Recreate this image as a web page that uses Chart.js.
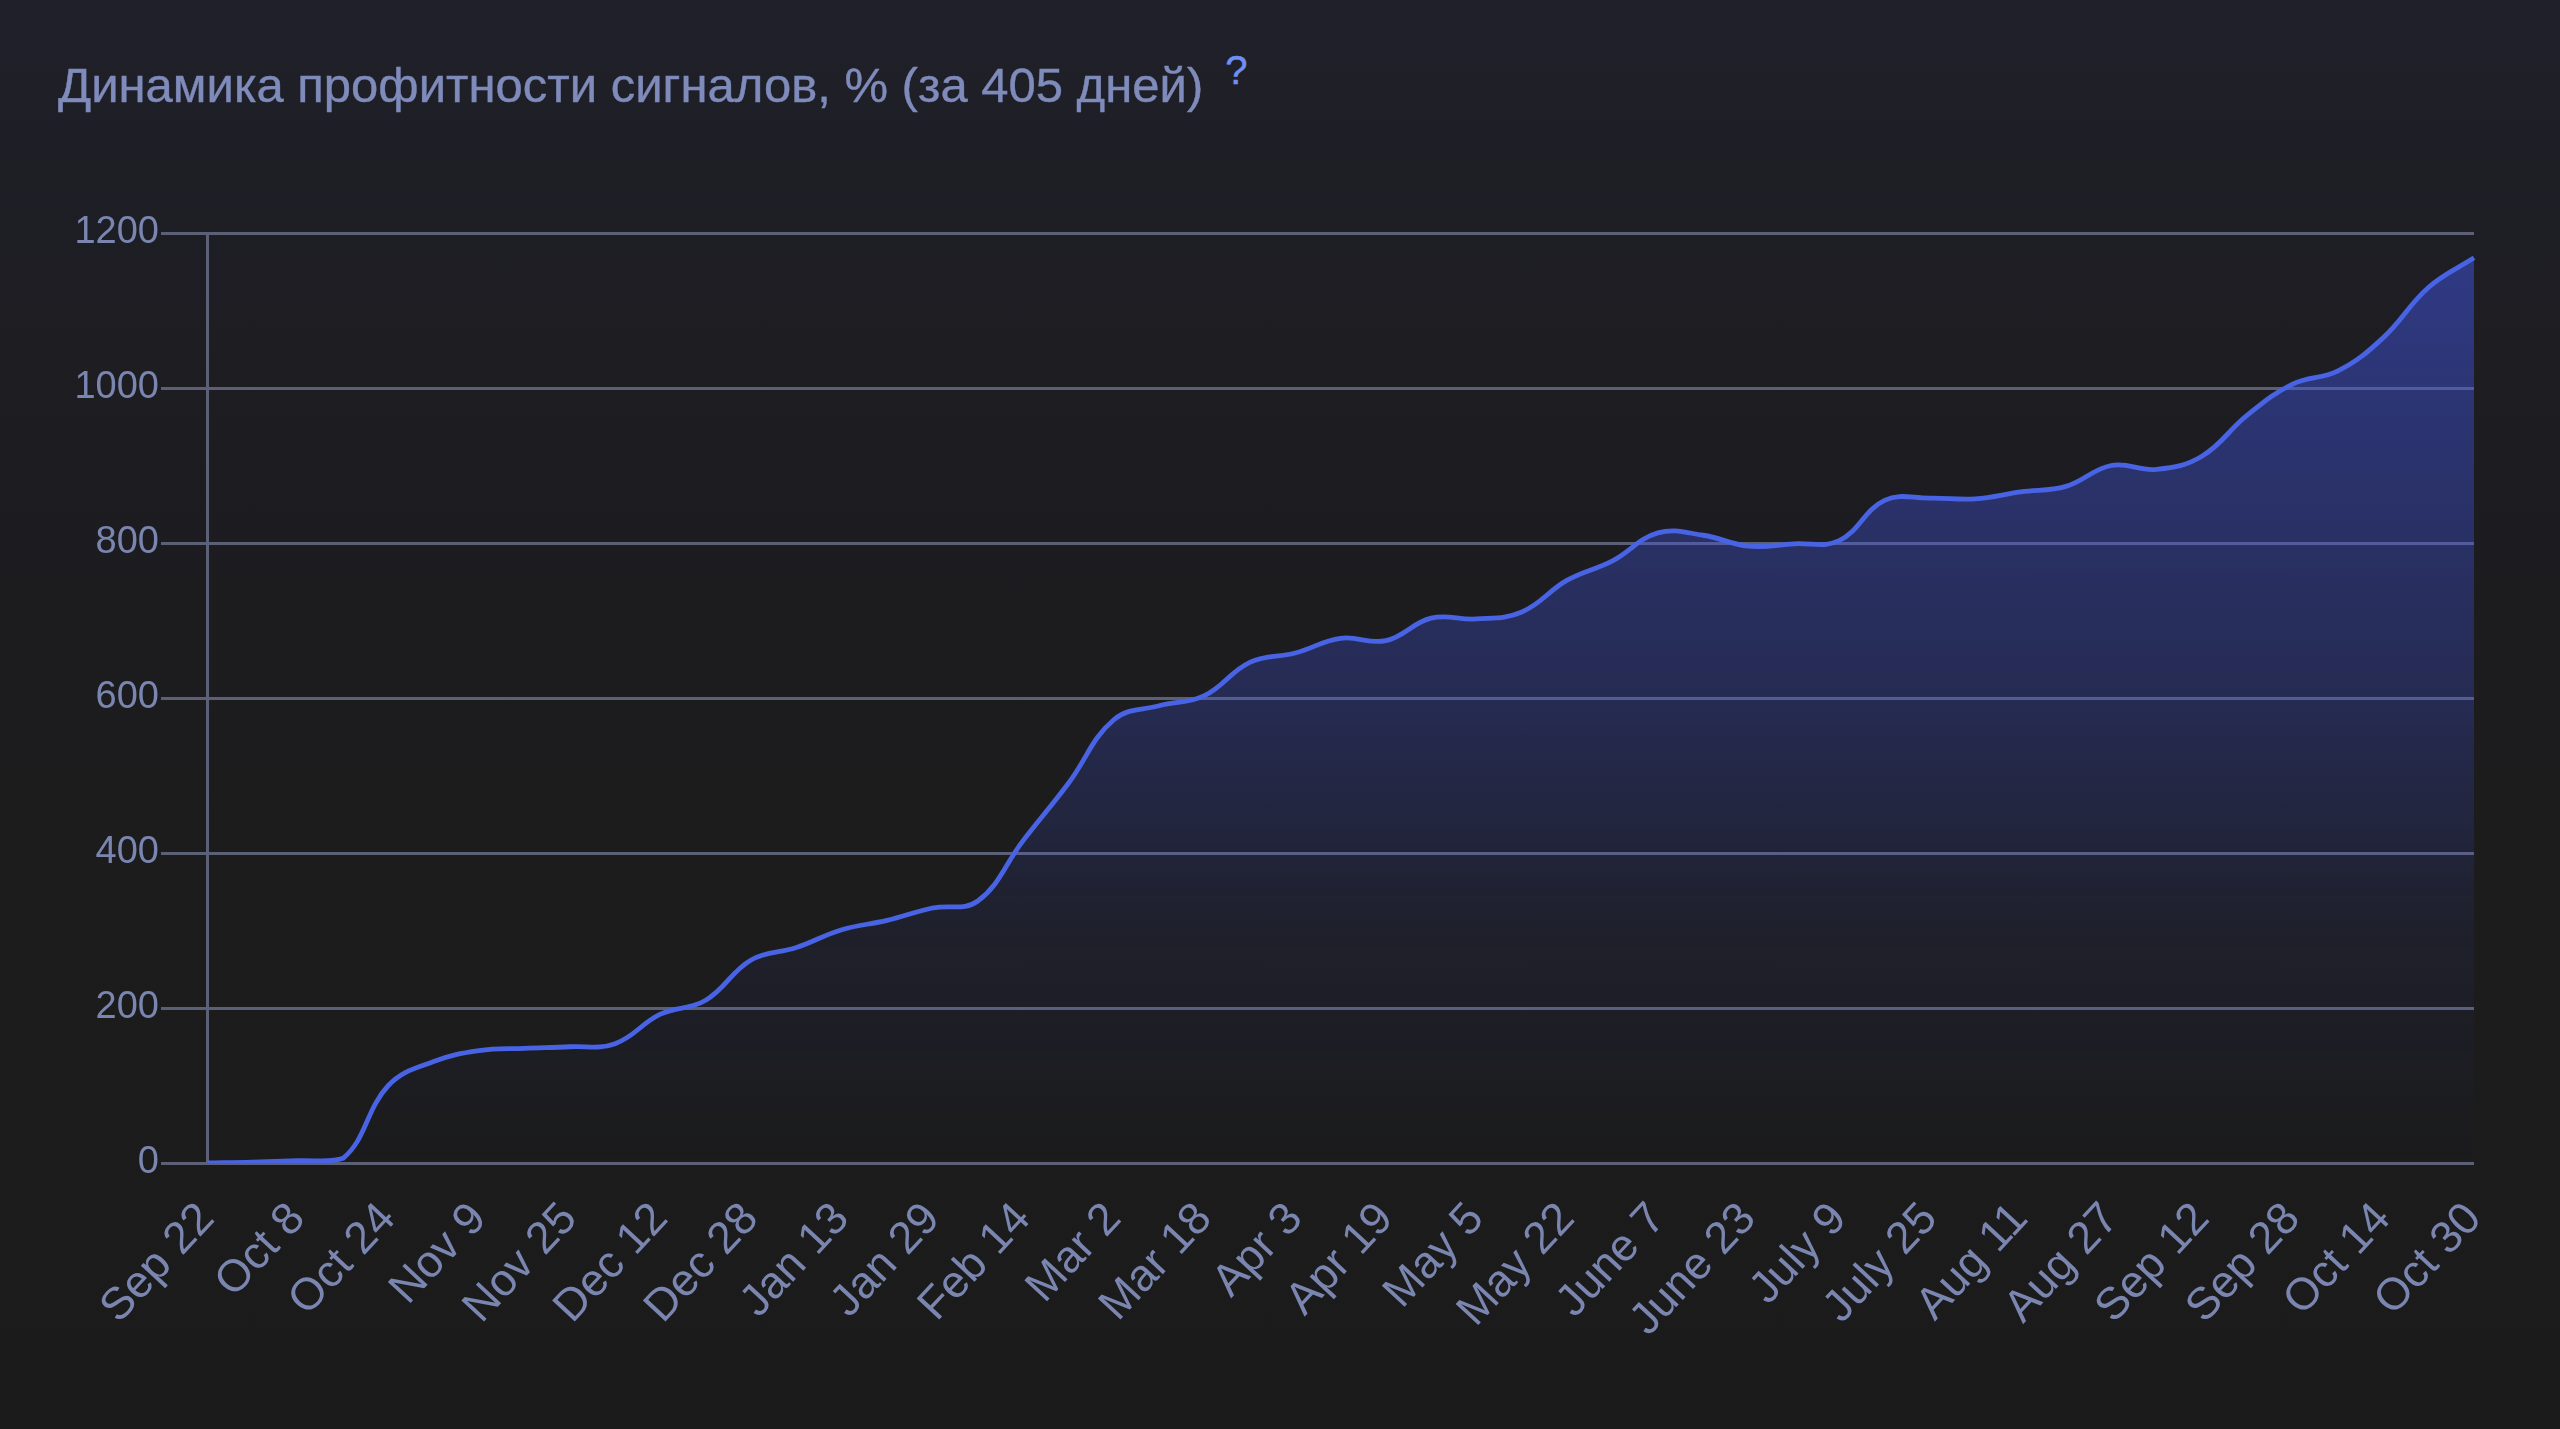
<!DOCTYPE html>
<html lang="ru">
<head>
<meta charset="utf-8">
<title>Динамика профитности сигналов</title>
<script src="https://cdn.jsdelivr.net/npm/chart.js@4.4.1/dist/chart.umd.min.js"></script>
<style>
    html, body {
        margin: 0;
        padding: 0;
        width: 2560px;
        height: 1429px;
        overflow: hidden;
        background: linear-gradient(180deg, #1f2029 0%, #1d1d22 25%, #1c1c1d 60%, #1b1b1b 100%);
        font-family: "Liberation Sans", Arial, sans-serif;
    }
    .title {
        position: absolute;
        left: 58px;
        top: 61px;
        font-size: 49px;
        line-height: 49px;
        color: #7f8bba;
        white-space: nowrap;
        -webkit-text-stroke: 0.4px #7f8bba;
    }
    .title .hint {
        position: relative;
        top: -18px;
        margin-left: 22px;
        font-size: 40px;
        color: #6f8ff5;
        -webkit-text-stroke: 0.5px #6f8ff5;
    }
    .chart-box {
        position: absolute;
        left: 0;
        top: 0;
        width: 2560px;
        height: 1429px;
    }
</style>
</head>
<body>
<div class="title">Динамика профитности сигналов, % (за 405 дней)<span class="hint">?</span></div>
<div class="chart-box"><canvas id="profitChart"></canvas></div>

<script>
// dates of the points (every other one is shown as a tick label)
const dates = [
    'Sep 22', 'Sep 30', 'Oct 8', 'Oct 16', 'Oct 24', 'Nov 1', 'Nov 9', 'Nov 17', 'Nov 25', 'Dec 4',
    'Dec 12', 'Dec 20', 'Dec 28', 'Jan 5', 'Jan 13', 'Jan 21', 'Jan 29', 'Feb 6', 'Feb 14', 'Feb 22',
    'Mar 2', 'Mar 10', 'Mar 18', 'Mar 26', 'Apr 3', 'Apr 11', 'Apr 19', 'Apr 27', 'May 5', 'May 13',
    'May 22', 'May 30', 'June 7', 'June 15', 'June 23', 'July 1', 'July 9', 'July 17', 'July 25', 'Aug 3',
    'Aug 11', 'Aug 19', 'Aug 27', 'Sep 4', 'Sep 12', 'Sep 20', 'Sep 28', 'Oct 6', 'Oct 14', 'Oct 22',
    'Oct 30'
];

// cumulative profit, %
const profit = [
    0, 1, 3, 6, 100, 131, 145, 148, 150, 154,
    192, 210, 262, 278, 301, 313, 329, 338, 416, 490,
    572, 590, 603, 646, 658, 677, 674, 703, 702, 711,
    752, 777, 813, 810, 796, 799, 803, 855, 858, 857,
    866, 873, 900, 895, 912, 965, 1005, 1022, 1065, 1130,
    1168
];

const yTicks = [0, 200, 400, 600, 800, 1000, 1200];

const gridColor = '#5c6077';
const tickColor = '#7a86b0';
const lineColor = '#4864e4';

Chart.defaults.font.family = '"Liberation Sans", Arial, sans-serif';

const canvas = document.getElementById('profitChart');

new Chart(canvas, {
    type: 'line',
    data: {
        labels: dates,
        datasets: [{
            data: profit,
            borderColor: lineColor,
            borderWidth: 4.8,
            pointRadius: 0,
            tension: 0.4,
            fill: 'origin',
            backgroundColor: (context) => {
                const area = context.chart.chartArea;
                if (!area) return 'rgba(65, 85, 225, 0.3)';
                const g = context.chart.ctx.createLinearGradient(0, area.top, 0, area.bottom);
                g.addColorStop(0, 'rgba(65, 85, 225, 0.52)');
                g.addColorStop(0.5, 'rgba(65, 85, 225, 0.27)');
                g.addColorStop(0.75, 'rgba(65, 85, 225, 0.08)');
                g.addColorStop(1, 'rgba(65, 85, 225, 0)');
                return g;
            }
        }]
    },
    options: {
        responsive: true,
        maintainAspectRatio: false,
        animation: false,
        layout: {
            padding: { left: 69, right: 86, top: 233, bottom: 0 }
        },
        plugins: {
            legend: { display: false },
            tooltip: { enabled: false }
        },
        scales: {
            x: {
                grid: { display: false, drawTicks: false },
                border: { display: false },
                ticks: {
                    color: tickColor,
                    font: { size: 45 },
                    autoSkip: false,
                    minRotation: 47,
                    maxRotation: 47,
                    padding: 30,
                    callback: function (value, index) {
                        return index % 2 === 0 ? this.getLabelForValue(value) : '';
                    }
                },
                afterFit: (scale) => { scale.height = 266; }
            },
            y: {
                min: yTicks[0],
                max: yTicks[yTicks.length - 1],
                afterBuildTicks: (scale) => {
                    scale.ticks = yTicks.map(v => ({ value: v }));
                },
                ticks: {
                    color: tickColor,
                    font: { size: 38 },
                    padding: 2,
                    callback: (value) => String(value)
                },
                grid: { color: gridColor, lineWidth: 3, tickLength: 46 },
                border: { display: true, color: gridColor, width: 3 },
                afterFit: (scale) => { scale.width = 138; }
            }
        }
    }
});
</script>
</body>
</html>
